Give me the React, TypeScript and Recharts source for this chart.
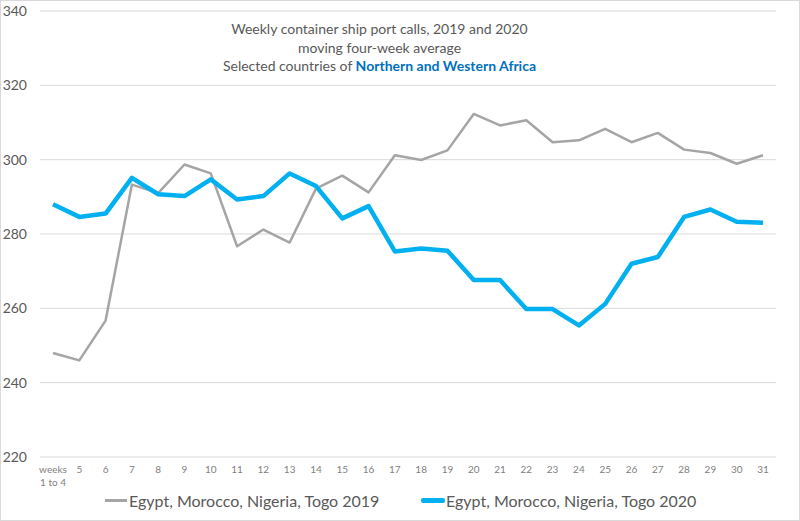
import React from 'react';
import { ComposedChart, Line, XAxis, YAxis, CartesianGrid, Legend } from 'recharts';

const weeks = ['1-4', '5', '6', '7', '8', '9', '10', '11', '12', '13', '14', '15', '16', '17', '18', '19', '20', '21', '22', '23', '24', '25', '26', '27', '28', '29', '30', '31'];
const calls2019 = [248.0, 246.0, 256.7, 293.3, 291.0, 298.7, 296.3, 276.7, 281.2, 277.7, 292.2, 295.7, 291.2, 301.2, 299.9, 302.5, 312.3, 309.2, 310.6, 304.7, 305.2, 308.3, 304.7, 307.2, 302.7, 301.8, 298.9, 301.2];
const calls2020 = [288.0, 284.6, 285.5, 295.1, 290.7, 290.2, 294.7, 289.3, 290.2, 296.3, 292.9, 284.2, 287.5, 275.3, 276.1, 275.5, 267.6, 267.6, 259.8, 259.8, 255.4, 261.2, 272.0, 273.8, 284.6, 286.6, 283.3, 283.0];
const yTicks = [220, 240, 260, 280, 300, 320, 340];

const label2019 = 'Egypt, Morocco, Nigeria, Togo 2019';
const label2020 = 'Egypt, Morocco, Nigeria, Togo 2020';

const data = weeks.map((w, i) => ({ week: w, y2019: calls2019[i], y2020: calls2020[i] }));

const FONT = "Lato, 'Open Sans', sans-serif";

const WeekTick = ({ x, y, payload }: any) => {
  if (payload.value === '1-4') {
    return (
      <text x={x} y={y} textAnchor="middle" fontSize={10} fill="#808080" fontFamily={FONT}>
        <tspan x={x} dy={8}>weeks</tspan>
        <tspan x={x} dy={12.5}>1 to 4</tspan>
      </text>
    );
  }
  return (
    <text x={x} y={y} dy={8} textAnchor="middle" fontSize={10} fill="#808080" fontFamily={FONT}>
      {payload.value}
    </text>
  );
};

const LegendBox = () => (
  <div style={{ position: 'relative', height: 30, fontFamily: FONT, fontSize: 16, color: '#595959' }}>
    <div style={{ position: 'absolute', left: 104, top: 5, display: 'flex', alignItems: 'center' }}>
      <span style={{ display: 'inline-block', width: 22, height: 3, background: '#a5a5a5', marginRight: 2 }} />
      <span>{label2019}</span>
    </div>
    <div style={{ position: 'absolute', left: 420, top: 5, display: 'flex', alignItems: 'center' }}>
      <span style={{ display: 'inline-block', width: 24, height: 5, borderRadius: 2, background: '#00b0f0', marginRight: 1 }} />
      <span>{label2020}</span>
    </div>
  </div>
);

export default function App() {
  return (
    <div style={{ position: 'fixed', left: 0, top: 0, width: 800, height: 521, boxSizing: 'border-box', border: '1px solid #d9d9d9', background: '#fff' }}>
      <ComposedChart
        width={798}
        height={519}
        data={data}
        margin={{ top: 10, right: 23, left: 0, bottom: 0 }}
      >
        <CartesianGrid vertical={false} stroke="#d9d9d9" strokeWidth={1} />
        <XAxis
          dataKey="week"
          axisLine={false}
          tickLine={false}
          interval={0}
          height={29}
          padding={{ left: 13, right: 13 }}
          tick={<WeekTick />}
        />
        <YAxis
          domain={[220, 340]}
          ticks={yTicks}
          axisLine={false}
          tickLine={false}
          tickSize={0}
          tickMargin={13}
          width={39}
          tick={{ fontSize: 14, fill: '#595959', fontFamily: FONT }}
        />
        <Legend verticalAlign="bottom" height={34} content={<LegendBox />} />
        <Line
          dataKey="y2019"
          name={label2019}
          stroke="#a5a5a5"
          strokeWidth={2.5}
          dot={false}
          strokeLinejoin="round"
          isAnimationActive={false}
        />
        <Line
          dataKey="y2020"
          name={label2020}
          stroke="#00b0f0"
          strokeWidth={4.5}
          dot={false}
          strokeLinejoin="round"
          isAnimationActive={false}
        />
      </ComposedChart>
      <div
        style={{
          position: 'absolute',
          left: 0,
          top: 19,
          width: 757,
          textAlign: 'center',
          fontFamily: FONT,
          fontSize: 14,
          lineHeight: '18.5px',
          color: '#595959',
        }}
      >
        <div>Weekly container ship port calls, 2019 and 2020</div>
        <div>moving four-week average</div>
        <div>
          Selected countries of <b style={{ color: '#0070c0' }}>Northern and Western Africa</b>
        </div>
      </div>
    </div>
  );
}
